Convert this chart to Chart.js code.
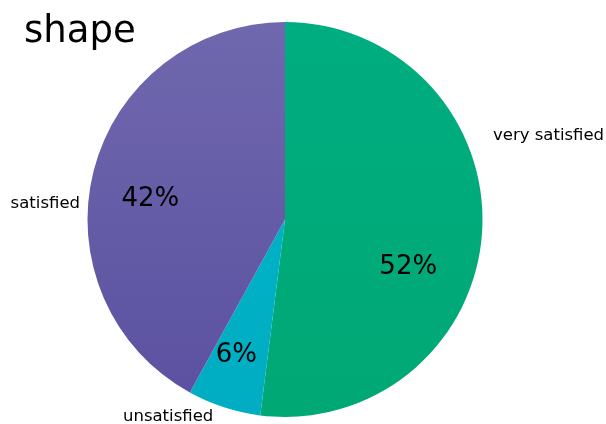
<!DOCTYPE html>
<html>
<head>
<meta charset="utf-8">
<script src="https://cdn.jsdelivr.net/npm/chart.js@4/dist/chart.umd.min.js"></script>
<style>
  html, body { margin:0; padding:0; background:#fff; }
  #wrap { width:606px; height:424px; position:relative; }
</style>
</head>
<body>
<div id="wrap"><canvas id="pie" width="606" height="424"></canvas></div>
<script>
// data
const labels = ['very satisfied', 'unsatisfied', 'satisfied'];
const shares = [52, 6, 42];
const colorsTop = ['#00ad80', '#00b5cb', '#7068ae'];
const colorsBottom = ['#00a874', '#00adc2', '#5a50a0'];

const FONT = '"DejaVu Sans", Verdana, sans-serif';

// vertical gradient per slice, lighter at the top
function sliceFill(ctx){
  const chart = ctx.chart;
  const area = chart.chartArea;
  if(!area) return colorsTop[ctx.dataIndex];
  const g = chart.ctx.createLinearGradient(0, area.top, 0, area.bottom);
  g.addColorStop(0, colorsTop[ctx.dataIndex]);
  g.addColorStop(1, colorsBottom[ctx.dataIndex]);
  return g;
}

// title, category names and percentages
const textPlugin = {
  id: 'pieText',
  afterDatasetsDraw(chart){
    const c = chart.ctx;
    const arcs = chart.getDatasetMeta(0).data;
    c.save();
    c.fillStyle = '#000';

    c.font = '37px ' + FONT;
    c.textAlign = 'left';
    c.textBaseline = 'alphabetic';
    c.fillText('shape', 24, 42);

    // percentages inside the slices
    c.font = '26px ' + FONT;
    c.textAlign = 'center';
    c.textBaseline = 'middle';
    const frac = [0.67, 0.73, 0.69];
    const tilt = [0.31, 0.03, -0.1];
    arcs.forEach((a, i) => {
      const mid = (a.startAngle + a.endAngle) / 2 + tilt[i];
      const r = a.outerRadius * frac[i];
      c.fillText(shares[i] + '%', a.x + Math.cos(mid) * r, a.y + Math.sin(mid) * r);
    });

    // outside names
    c.font = '16.5px ' + FONT;
    c.textBaseline = 'alphabetic';
    c.textAlign = 'left';
    c.fillText(labels[0], 493, 140);
    c.textAlign = 'right';
    c.fillText(labels[2], 80, 208);
    c.textAlign = 'left';
    c.fillText(labels[1], 123, 421);
    c.restore();
  }
};

new Chart(document.getElementById('pie'), {
  type: 'pie',
  data: {
    labels,
    datasets: [{
      data: shares,
      backgroundColor: sliceFill,
      borderWidth: 0
    }]
  },
  options: {
    responsive: false,
    animation: false,
    layout: { padding: { top: 22, bottom: 7, left: 87, right: 123 } },
    plugins: {
      legend: { display: false },
      tooltip: { enabled: false },
      title: { display: false }
    }
  },
  plugins: [textPlugin]
});
</script>
</body>
</html>
